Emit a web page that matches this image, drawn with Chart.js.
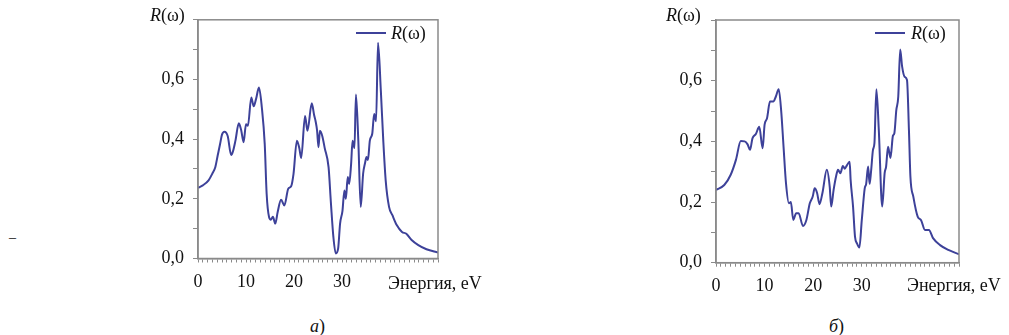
<!DOCTYPE html>
<html>
<head>
<meta charset="utf-8">
<script src="https://cdn.jsdelivr.net/npm/chart.js@4"></script>
<style>
  body { margin: 0; width: 1009px; height: 335px; background: #fff; position: relative; overflow: hidden; font-family: "Liberation Serif", serif; color: #111; }
  .box { position: absolute; top: 0; width: 340px; height: 300px; }
  .txt { position: absolute; font-size: 18px; white-space: nowrap; line-height: 1; }
  .key { position: absolute; height: 2px; width: 30px; background: #3d4199; }
</style>
</head>
<body>
<div class="box" style="left:130px"><canvas id="chartA"></canvas></div>
<div class="box" style="left:648px"><canvas id="chartB"></canvas></div>

<div class="txt" style="left:150px; top:6px"><i>R</i>(ω)</div>
<div class="txt" style="left:666px; top:6px"><i>R</i>(ω)</div>
<div class="key" style="left:356px; top:32px"></div>
<div class="txt" style="left:391px; top:24px"><i>R</i>(ω)</div>
<div class="key" style="left:875px; top:32px"></div>
<div class="txt" style="left:911px; top:24px"><i>R</i>(ω)</div>
<div class="txt" style="left:388px; top:274px">Энергия, eV</div>
<div class="txt" style="left:907px; top:276px">Энергия, eV</div>
<div class="txt" style="left:310px; top:317px"><i>а</i>)</div>
<div class="txt" style="left:829px; top:317px"><i>б</i>)</div>
<div class="txt" style="left:9px; top:231px; font-size:14px">–</div>

<script>
// panel a
const energyA = [0, 1.0, 2.2, 3.0, 3.6, 4.1, 4.6, 5.0, 5.5, 6.2, 6.9, 7.3, 7.8, 8.5, 9.0, 9.5, 10.0, 10.4, 11.1, 11.6,
  12.1, 12.7, 13.3, 13.9, 14.3, 14.8, 15.2, 15.6, 16.1, 16.6, 17.3, 18.0, 18.8, 19.4, 19.9, 20.6, 21.1, 21.5, 22.3, 22.8,
  23.7, 24.2, 24.5, 24.8, 25.1, 25.4, 25.9, 26.4, 27.2, 27.7, 28.2, 28.7, 29.2, 29.6, 30.1, 30.5, 30.8, 31.2, 31.5, 31.9,
  32.2, 32.6, 32.9, 33.4, 33.9, 34.4, 34.8, 35.1, 35.4, 35.8, 36.3, 36.7, 37.1, 37.5, 38.1, 38.6, 39.1, 39.8, 40.5, 41.4,
  42.5, 43.4, 44.5, 45.9, 47.6, 50];
const reflA = [0.237, 0.245, 0.262, 0.285, 0.306, 0.345, 0.384, 0.415, 0.425, 0.41, 0.347, 0.36, 0.395, 0.453, 0.43, 0.39, 0.45, 0.445, 0.54, 0.51,
  0.535, 0.573, 0.506, 0.384, 0.217, 0.139, 0.13, 0.14, 0.117, 0.156, 0.197, 0.178, 0.234, 0.242, 0.284, 0.395, 0.37, 0.337, 0.478, 0.428,
  0.52, 0.48, 0.46, 0.43, 0.373, 0.428, 0.41, 0.37, 0.306, 0.184, 0.073, 0.017, 0.034, 0.117, 0.16, 0.228, 0.2, 0.273, 0.25, 0.317,
  0.395, 0.37, 0.55, 0.395, 0.173, 0.284, 0.32, 0.34, 0.33, 0.395, 0.418, 0.484, 0.46, 0.723, 0.56, 0.395, 0.262, 0.173, 0.145, 0.112,
  0.089, 0.083, 0.062, 0.045, 0.031, 0.02];

// panel b
const energyB = [0, 1.7, 3.0, 4.1, 5.1, 5.9, 6.5, 7.0, 7.5, 8.2, 8.9, 9.6, 10.0, 10.5, 11.1, 11.8, 12.3, 12.9, 13.4, 13.9,
  14.4, 15.0, 15.4, 15.9, 16.5, 17.0, 17.9, 18.6, 19.3, 19.9, 20.3, 20.8, 21.3, 21.9, 22.8, 23.4, 23.7, 24.2, 24.7, 25.1,
  25.6, 26.1, 26.5, 26.9, 27.5, 27.7, 28.2, 28.6, 29.0, 29.5, 30.0, 30.6, 30.9, 31.3, 31.6, 31.9, 32.3, 32.6, 33.0, 33.5,
  34.2, 34.7, 35.0, 35.4, 35.9, 36.4, 36.7, 37.1, 37.5, 37.9, 38.3, 38.8, 39.3, 39.7, 40.0, 40.6, 41.5, 42.2, 43.0, 43.8,
  44.7, 46.1, 47.8, 50];
const reflB = [0.24, 0.256, 0.289, 0.339, 0.401, 0.40, 0.39, 0.372, 0.41, 0.424, 0.448, 0.377, 0.455, 0.476, 0.531, 0.531, 0.547, 0.572, 0.503, 0.382,
  0.262, 0.196, 0.2, 0.141, 0.163, 0.163, 0.121, 0.141, 0.196, 0.218, 0.245, 0.23, 0.193, 0.23, 0.306, 0.25, 0.185, 0.24, 0.284, 0.306,
  0.295, 0.319, 0.31, 0.32, 0.333, 0.273, 0.185, 0.086, 0.064, 0.05, 0.141, 0.245, 0.26, 0.317, 0.26, 0.30, 0.372, 0.394, 0.572, 0.437,
  0.185, 0.295, 0.317, 0.382, 0.345, 0.418, 0.427, 0.503, 0.547, 0.703, 0.646, 0.613, 0.602, 0.437, 0.284, 0.218, 0.152, 0.14, 0.108, 0.108,
  0.080, 0.058, 0.042, 0.028];

const xLabels = [0, 10, 20, 30];
const yLabels = [0, 0.2, 0.4, 0.6];
const seriesName = 'R(ω)';

const lineColor = '#3d4199';
const axisColor = '#8a8a8a';
const serif = 'Liberation Serif';

// grey box around the plot
const framePlugin = {
  id: 'frame',
  afterDraw(chart) {
    const a = chart.chartArea, ctx = chart.ctx;
    ctx.save();
    ctx.strokeStyle = axisColor;
    ctx.lineWidth = 1.5;
    ctx.strokeRect(a.left, a.top, a.right - a.left, a.bottom - a.top);
    ctx.restore();
  }
};

function makeChart(id, xs, ys, pad) {
  return new Chart(document.getElementById(id), {
    type: 'line',
    data: {
      datasets: [{
        label: seriesName,
        data: xs.map((x, i) => ({ x: x, y: ys[i] })),
        borderColor: lineColor,
        backgroundColor: lineColor,
        borderWidth: 2,
        pointRadius: 0,
        cubicInterpolationMode: 'monotone'
      }]
    },
    options: {
      responsive: true,
      maintainAspectRatio: false,
      animation: false,
      layout: { padding: pad },
      plugins: {
        tooltip: { enabled: false },
        legend: { display: false }
      },
      scales: {
        x: {
          type: 'linear', min: 0, max: 50,
          afterFit: s => { s.height = 30; },
          grid: { drawOnChartArea: false, drawTicks: true, tickLength: 4, color: axisColor },
          border: { color: axisColor, width: 1.5 },
          ticks: {
            stepSize: 1, autoSkip: false, maxTicksLimit: 100, maxRotation: 0, padding: 9,
            color: '#111', font: { family: serif, size: 18 },
            callback: v => xLabels.includes(v) ? String(v) : ''
          }
        },
        y: {
          min: 0, max: 0.8,
          afterFit: s => { s.width = 68; },
          grid: { drawOnChartArea: false, drawTicks: true, tickLength: 5, color: axisColor },
          border: { color: axisColor, width: 1.5 },
          ticks: {
            stepSize: 0.1, autoSkip: false, padding: 9,
            color: '#111', font: { family: serif, size: 18 },
            callback: v => yLabels.some(l => Math.abs(l - v) < 1e-6) ? v.toFixed(1).replace('.', ',') : ''
          }
        }
      }
    },
    plugins: [framePlugin]
  });
}

makeChart('chartA', energyA, reflA, { left: 0, right: 32, top: 18, bottom: 11.5 });
makeChart('chartB', energyB, reflB, { left: 0, right: 29, top: 20, bottom: 7.3 });
</script>
</body>
</html>
